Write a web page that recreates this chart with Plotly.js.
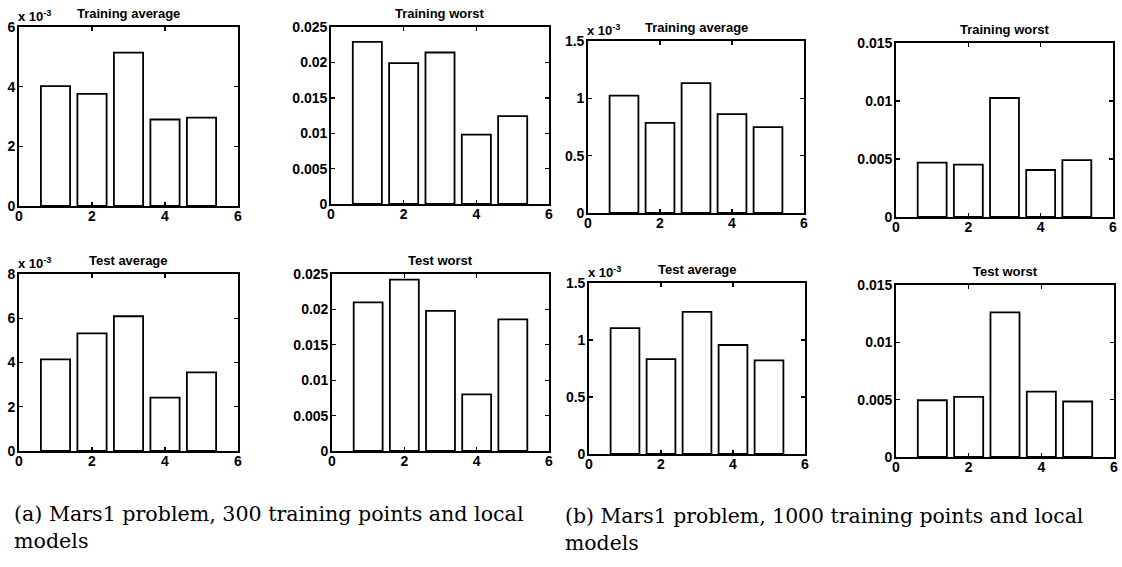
<!DOCTYPE html>
<html>
<head>
<meta charset="utf-8">
<script src="https://cdn.plot.ly/plotly-3.0.1.min.js"></script>
<style>html,body{margin:0;padding:0;background:#fff;}#chart{width:1122px;height:567px;}</style>
</head>
<body>
<div id="chart"></div>
<script>
// Model index on the x axis
const models = [1, 2, 3, 4, 5];

// (a) Mars1, 300 training points
const trainAvg300_e3 = [4.02, 3.76, 5.14, 2.90, 2.96];      // x 10^-3
const trainWorst300 = [0.0229, 0.0199, 0.0214, 0.0098, 0.0124];
const testAvg300_e3 = [4.14, 5.32, 6.09, 2.41, 3.55];       // x 10^-3
const testWorst300 = [0.0210, 0.0242, 0.0198, 0.0080, 0.0186];

// (b) Mars1, 1000 training points
const trainAvg1000_e3 = [1.024, 0.786, 1.132, 0.862, 0.749]; // x 10^-3
const trainWorst1000 = [0.00468, 0.00451, 0.01026, 0.00405, 0.00491];
const testAvg1000_e3 = [1.105, 0.833, 1.246, 0.956, 0.822];  // x 10^-3
const testWorst1000 = [0.00495, 0.00524, 0.01261, 0.00571, 0.00484];

const panelTitles = ["Training average", "Training worst", "Training average", "Training worst",
                     "Test average", "Test worst", "Test average", "Test worst"];
const xTicks = [0, 2, 4, 6];
const captionA = "(a) Mars1 problem, 300 training points and local<br>models";
const captionB = "(b) Mars1 problem, 1000 training points and local<br>models";

const W = 1122, H = 567;
// panel boxes in pixels: [left, right, top, bottom]
const boxes = [
  [19, 238, 27, 206], [331, 549, 27, 204], [588, 804, 41, 213], [896, 1113, 43, 217],
  [19, 238, 274, 451], [332, 549, 274, 451], [589, 805, 283, 454], [896, 1114, 285, 457]
];
const series = [trainAvg300_e3, trainWorst300, trainAvg1000_e3, trainWorst1000,
                testAvg300_e3, testWorst300, testAvg1000_e3, testWorst1000];
const yRanges = [[0, 6], [0, 0.025], [0, 1.5], [0, 0.015], [0, 8], [0, 0.025], [0, 1.5], [0, 0.015]];
const yTickVals = [[0, 2, 4, 6], [0, 0.005, 0.01, 0.015, 0.02, 0.025], [0, 0.5, 1, 1.5], [0, 0.005, 0.01, 0.015],
                   [0, 2, 4, 6, 8], [0, 0.005, 0.01, 0.015, 0.02, 0.025], [0, 0.5, 1, 1.5], [0, 0.005, 0.01, 0.015]];
const yTickText = [["0","2","4","6"], ["0","0.005","0.01","0.015","0.02","0.025"], ["0","0.5","1","1.5"], ["0","0.005","0.01","0.015"],
                   ["0","2","4","6","8"], ["0","0.005","0.01","0.015","0.02","0.025"], ["0","0.5","1","1.5"], ["0","0.005","0.01","0.015"]];
const hasExp = [true, false, true, false, true, false, true, false];

const font = "Liberation Sans, Arial, sans-serif";
const traces = [];
const layout = {
  width: W, height: H, margin: {l: 0, r: 0, t: 0, b: 0},
  paper_bgcolor: "#fff", plot_bgcolor: "#fff", showlegend: false,
  font: {family: font, color: "#000", size: 14},
  annotations: [], bargap: 0
};

for (let i = 0; i < 8; i++) {
  const [l, r, t, b] = boxes[i];
  const n = i === 0 ? "" : String(i + 1);
  traces.push({
    type: "bar", x: models, y: series[i], width: 0.8,
    xaxis: "x" + n, yaxis: "y" + n,
    marker: {color: "#fff", line: {color: "#000", width: 1.8}},
    hoverinfo: "skip"
  });
  const axCommon = {
    showline: true, linecolor: "#000", linewidth: 1.8, mirror: "allticks",
    ticks: "inside", ticklen: 4, tickwidth: 1.4, tickcolor: "#000",
    showgrid: false, zeroline: false, fixedrange: true,
    tickfont: {family: font, size: 14, color: "#000", weight: "bold"}
  };
  layout["xaxis" + n] = Object.assign({}, axCommon, {
    domain: [l / W, r / W], range: [0, 6], tickvals: xTicks, anchor: "y" + n,
    ticklabelstandoff: -4
  });
  layout["yaxis" + n] = Object.assign({}, axCommon, {
    domain: [1 - b / H, 1 - t / H], range: yRanges[i],
    tickvals: yTickVals[i], ticktext: yTickText[i], anchor: "x" + n, ticklabelstandoff: -1
  });
  layout.annotations.push({
    xref: "paper", yref: "paper", x: (l + r) / 2 / W, y: 1 - t / H,
    xanchor: "center", yanchor: "bottom", yshift: 4, showarrow: false,
    text: panelTitles[i], font: {family: font, size: 13, color: "#000", weight: "bold"}
  });
  if (hasExp[i]) {
    layout.annotations.push({
      xref: "paper", yref: "paper", x: l / W, y: 1 - t / H,
      xanchor: "left", yanchor: "bottom", xshift: -3, yshift: 1, showarrow: false,
      text: "x 10<sup>-3</sup>", font: {family: font, size: 13, color: "#000", weight: "bold"}
    });
  }
}

layout.annotations.push({
  xref: "paper", yref: "paper", x: 12 / W, y: 1 - 500 / H, xanchor: "left", yanchor: "top",
  align: "left", showarrow: false, text: captionA,
  font: {family: "DejaVu Serif, serif", size: 20.6, color: "#000"}
});
layout.annotations.push({
  xref: "paper", yref: "paper", x: 563 / W, y: 1 - 502 / H, xanchor: "left", yanchor: "top",
  align: "left", showarrow: false, text: captionB,
  font: {family: "DejaVu Serif, serif", size: 20.4, color: "#000"}
});

Plotly.newPlot("chart", traces, layout, {staticPlot: true});
</script>
</body>
</html>
